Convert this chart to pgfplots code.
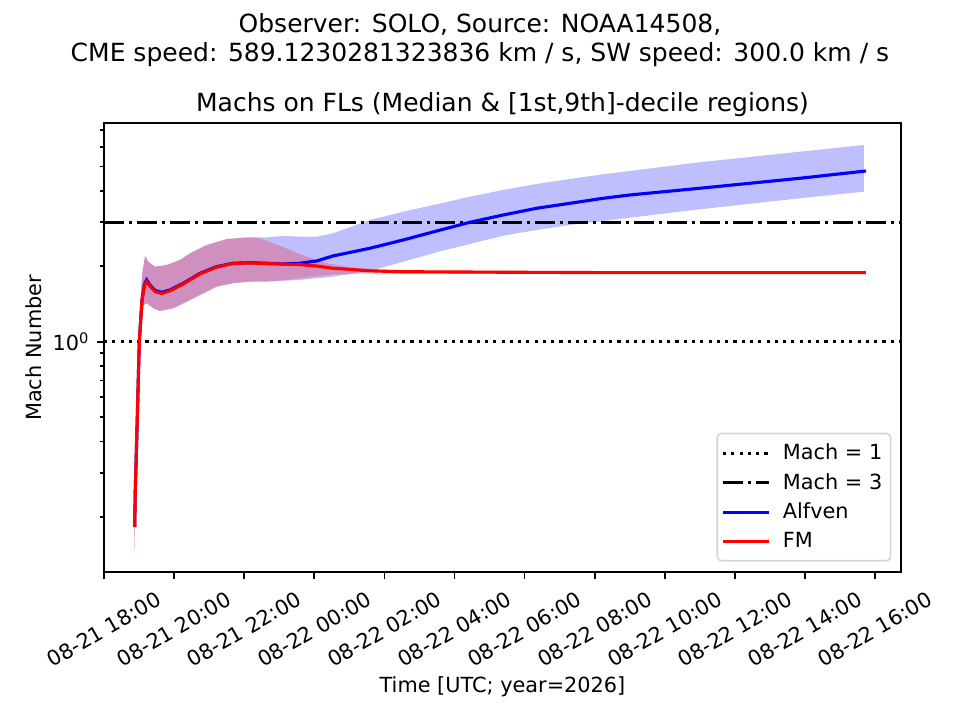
\documentclass[border=0pt]{standalone}
\usepackage{fontspec}
\setmainfont{DejaVu Sans}
\usepackage{pgfplots}
\usepackage{pgfplotstable}
\pgfplotsset{compat=1.18}
\usepgfplotslibrary{fillbetween}

\pgfplotstableread{
h v
18.876 0.1821
18.893 0.2559
18.933 0.4051
19.007 1.000
19.084 1.467
19.156 1.699
19.218 1.764
19.312 1.684
19.455 1.601
19.646 1.575
19.883 1.608
20.262 1.711
20.739 1.875
21.215 1.993
21.680 2.056
22.165 2.067
22.642 2.056
23.107 2.043
23.592 2.056
24.068 2.100
24.533 2.199
25.589 2.360
26.539 2.547
27.492 2.766
28.442 2.997
29.392 3.205
30.345 3.409
31.295 3.568
32.245 3.737
33.007 3.852
35.004 4.097
37.857 4.491
39.740 4.802
}\alfmed

\pgfplotstableread{
h v
18.876 0.1821
18.893 0.2559
18.933 0.4051
19.007 1.000
19.084 1.460
19.156 1.685
19.218 1.736
19.312 1.665
19.455 1.585
19.646 1.557
19.883 1.595
20.262 1.700
20.739 1.865
21.215 1.985
21.680 2.050
22.165 2.062
22.642 2.050
23.107 2.040
23.592 2.030
24.068 2.005
24.533 1.963
25.018 1.945
25.495 1.920
26.445 1.903
29.298 1.894
32.722 1.886
39.740 1.886
}\fmmed

\pgfplotstableread{
h v
18.870 0.1942
18.927 0.444
18.999 1.114
19.084 1.846
19.170 2.199
19.264 2.086
19.455 1.993
19.789 2.024
20.168 2.120
20.454 2.254
20.930 2.432
21.501 2.570
22.165 2.611
22.642 2.611
23.107 2.642
23.592 2.626
24.077 2.626
24.533 2.709
25.589 3.061
26.539 3.303
27.492 3.536
28.442 3.792
29.392 4.033
30.345 4.262
31.295 4.462
32.245 4.659
33.007 4.802
35.004 5.203
37.857 5.735
39.683 6.099
}\alfup

\pgfplotstableread{
h v
18.870 0.1474
18.913 0.3075
18.984 0.6414
19.056 1.114
19.127 1.401
19.218 1.423
19.407 1.359
19.598 1.326
19.977 1.359
20.359 1.444
20.739 1.536
21.215 1.658
21.680 1.711
22.165 1.736
22.642 1.736
23.592 1.764
24.533 1.817
25.589 1.915
26.539 2.086
27.492 2.275
28.442 2.455
29.392 2.650
30.345 2.792
31.295 2.924
32.245 3.033
33.007 3.126
35.004 3.377
37.857 3.737
39.683 3.971
}\alflo

\pgfplotstableread{
h v
18.870 0.1942
18.927 0.444
18.999 1.114
19.084 1.846
19.170 2.199
19.264 2.086
19.455 1.993
19.789 2.024
20.168 2.120
20.454 2.254
20.930 2.432
21.501 2.570
22.165 2.611
22.451 2.587
22.822 2.471
23.307 2.323
23.783 2.185
24.354 2.056
25.018 1.978
25.874 1.942
27.016 1.924
32.151 1.906
39.683 1.903
}\fmup

\pgfplotstableread{
h v
18.870 0.1474
18.913 0.3075
18.984 0.6414
19.056 1.114
19.127 1.401
19.218 1.423
19.407 1.359
19.598 1.326
19.977 1.359
20.359 1.444
20.739 1.536
21.215 1.658
21.680 1.711
22.165 1.736
22.642 1.736
23.213 1.764
23.783 1.804
24.533 1.854
25.495 1.872
27.016 1.864
32.151 1.867
39.683 1.867
}\fmlo

\begin{document}
\begin{tikzpicture}
\begin{axis}[
  at={(49.92pt,71.04pt)}, anchor=south west,
  scale only axis, width=382.56pt, height=215.52pt,
  xmin=18, xmax=40.739,
  ymode=log, ymin=0.1204, ymax=7.464,
  axis line style={line width=0.8pt},
  tick align=outside,
  xtick pos=left, ytick pos=left,
  every tick/.style={black, line width=0.8pt},
  major tick length=3.5pt, minor tick length=2pt,
  xtick={18,20,...,40},
  xticklabels={08-21 18:00,08-21 20:00,08-21 22:00,08-22 00:00,08-22 02:00,08-22 04:00,08-22 06:00,08-22 08:00,08-22 10:00,08-22 12:00,08-22 14:00,08-22 16:00},
  xticklabel style={anchor=center, rotate=30, inner sep=0pt},
  xticklabel shift=24pt,
  ytick={1}, yticklabels={10\textsuperscript{0}},
  minor ytick={0.2,0.3,0.4,0.5,0.6,0.7,0.8,0.9,2,3,4,5,6,7},
  tick label style={font=\fontsize{10}{12}\selectfont},
  legend cell align=left,
  legend image code/.code={\draw[line width=1.5pt, #1, draw opacity=1] (0pt,0pt) -- (22pt,0pt);},
  legend style={at={(1,0)}, anchor=south east, xshift=-5pt, yshift=5.4pt,
    outer sep=0pt,
    draw={rgb,255:red,204;green,204;blue,204}, line width=0.8pt,
    rounded corners=2pt, fill=white, fill opacity=0.8, draw opacity=0.8, text opacity=1,
    font=\fontsize{10}{12}\selectfont, inner xsep=2pt, inner ysep=3pt, row sep=1pt,
    /tikz/every odd column/.append style={column sep=4pt}},
]
\addplot[black, line width=1.5pt, dash pattern=on 1.5pt off 2.475pt] coordinates {(18,1) (40.739,1)};
\addlegendentry{Mach = 1}
\addplot[black, line width=1.5pt, dash pattern=on 9.6pt off 2.4pt on 1.5pt off 2.4pt] coordinates {(18,3) (40.739,3)};
\addlegendentry{Mach = 3}

\addplot[name path=au, draw=none, forget plot] table[x=h,y=v] {\alfup};
\addplot[name path=al, draw=none, forget plot] table[x=h,y=v] {\alflo};
\addplot[fill=blue, fill opacity=0.25, draw=none, forget plot] fill between[of=au and al];
\addplot[name path=fu, draw=none, forget plot] table[x=h,y=v] {\fmup};
\addplot[name path=fl, draw=none, forget plot] table[x=h,y=v] {\fmlo};
\addplot[fill=red, fill opacity=0.25, draw=none, forget plot] fill between[of=fu and fl];

\addplot[blue, line width=1.5pt] table[x=h,y=v] {\alfmed};
\addlegendentry{Alfven}
\addplot[red, line width=1.5pt] table[x=h,y=v] {\fmmed};
\addlegendentry{FM}
\end{axis}
\path (0,0) rectangle (460.8pt,345.6pt);
\node[anchor=base, font=\fontsize{12}{14.4}\selectfont] at (230.4pt,329.9pt) {Observer: SOLO, Source: NOAA14508,};
\node[anchor=base, font=\fontsize{12}{14.4}\selectfont] at (230.4pt,316.3pt) {CME speed: 589.1230281323836 km / s, SW speed: 300.0 km / s};
\node[anchor=base, font=\fontsize{12}{14.4}\selectfont] at (241.2pt,292.3pt) {Machs on FLs (Median \& [1st,9th]-decile regions)};
\node[anchor=base, font=\fontsize{10}{12}\selectfont] at (241.2pt,13pt) {Time [UTC; year=2026]};
\node[anchor=base, rotate=90, font=\fontsize{10}{12}\selectfont] at (19.7pt,178.6pt) {Mach Number};
\end{tikzpicture}
\end{document}
